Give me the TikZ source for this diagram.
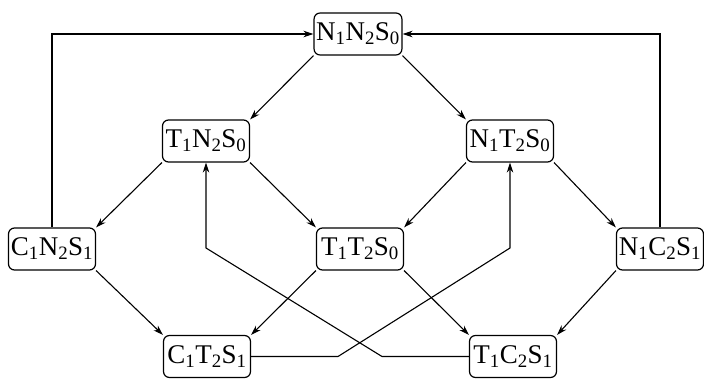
\documentclass[tikz,border=0pt]{standalone}
\usepackage{fontspec}
\setmainfont{Liberation Serif}
\usetikzlibrary{arrows.meta}
\begin{document}
\begin{tikzpicture}[x=1pt,y=1pt,
  state/.style={draw, line width=1.2pt, rounded corners=6pt, minimum width=87pt, minimum height=42pt, inner sep=2pt, font=\fontsize{27}{29}\selectfont},
  arr/.style={line width=1.1pt, -{Stealth[length=10pt,width=6.5pt]}},
  ln/.style={line width=1.1pt}]
\useasboundingbox (0,0) rectangle (704,378);
\node[state] (top)  at (358,344) {N\textsubscript{1}N\textsubscript{2}S\textsubscript{0}};
\node[state] (t1n2) at (206,237) {T\textsubscript{1}N\textsubscript{2}S\textsubscript{0}};
\node[state] (n1t2) at (510,237) {N\textsubscript{1}T\textsubscript{2}S\textsubscript{0}};
\node[state] (c1n2) at (52,129)  {C\textsubscript{1}N\textsubscript{2}S\textsubscript{1}};
\node[state] (t1t2) at (360,129) {T\textsubscript{1}T\textsubscript{2}S\textsubscript{0}};
\node[state] (n1c2) at (660,129) {N\textsubscript{1}C\textsubscript{2}S\textsubscript{1}};
\node[state] (c1t2) at (207,21.5) {C\textsubscript{1}T\textsubscript{2}S\textsubscript{1}};
\node[state] (t1c2) at (513,21.5) {T\textsubscript{1}C\textsubscript{2}S\textsubscript{1}};
\coordinate (a1) at (338,21.5);
\coordinate (a2) at (510,130);
\coordinate (b1) at (382,21.5);
\coordinate (b2) at (206,130);
% downward diagonals
\draw[arr] (top.south west) -- (t1n2.north east);
\draw[arr] (top.south east) -- (n1t2.north west);
\draw[arr] (t1n2.south west) -- (c1n2.north east);
\draw[arr] (t1n2.south east) -- (t1t2.north west);
\draw[arr] (n1t2.south west) -- (t1t2.north east);
\draw[arr] (n1t2.south east) -- (n1c2.north west);
\draw[arr] (c1n2.south east) -- (c1t2.north west);
\draw[arr] (t1t2.south west) -- (c1t2.north east);
\draw[arr] (t1t2.south east) -- (t1c2.north west);
\draw[arr] (n1c2.south west) -- (t1c2.north east);
% feedback
\draw[arr] (c1n2.north) |- (top.west);
\draw[arr] (n1c2.north) |- (top.east);
\draw[arr] (c1t2.east) -- (a1) -- (a2) -- (n1t2.south);
\draw[arr] (t1c2.west) -- (b1) -- (b2) -- (t1n2.south);
\end{tikzpicture}
\end{document}
